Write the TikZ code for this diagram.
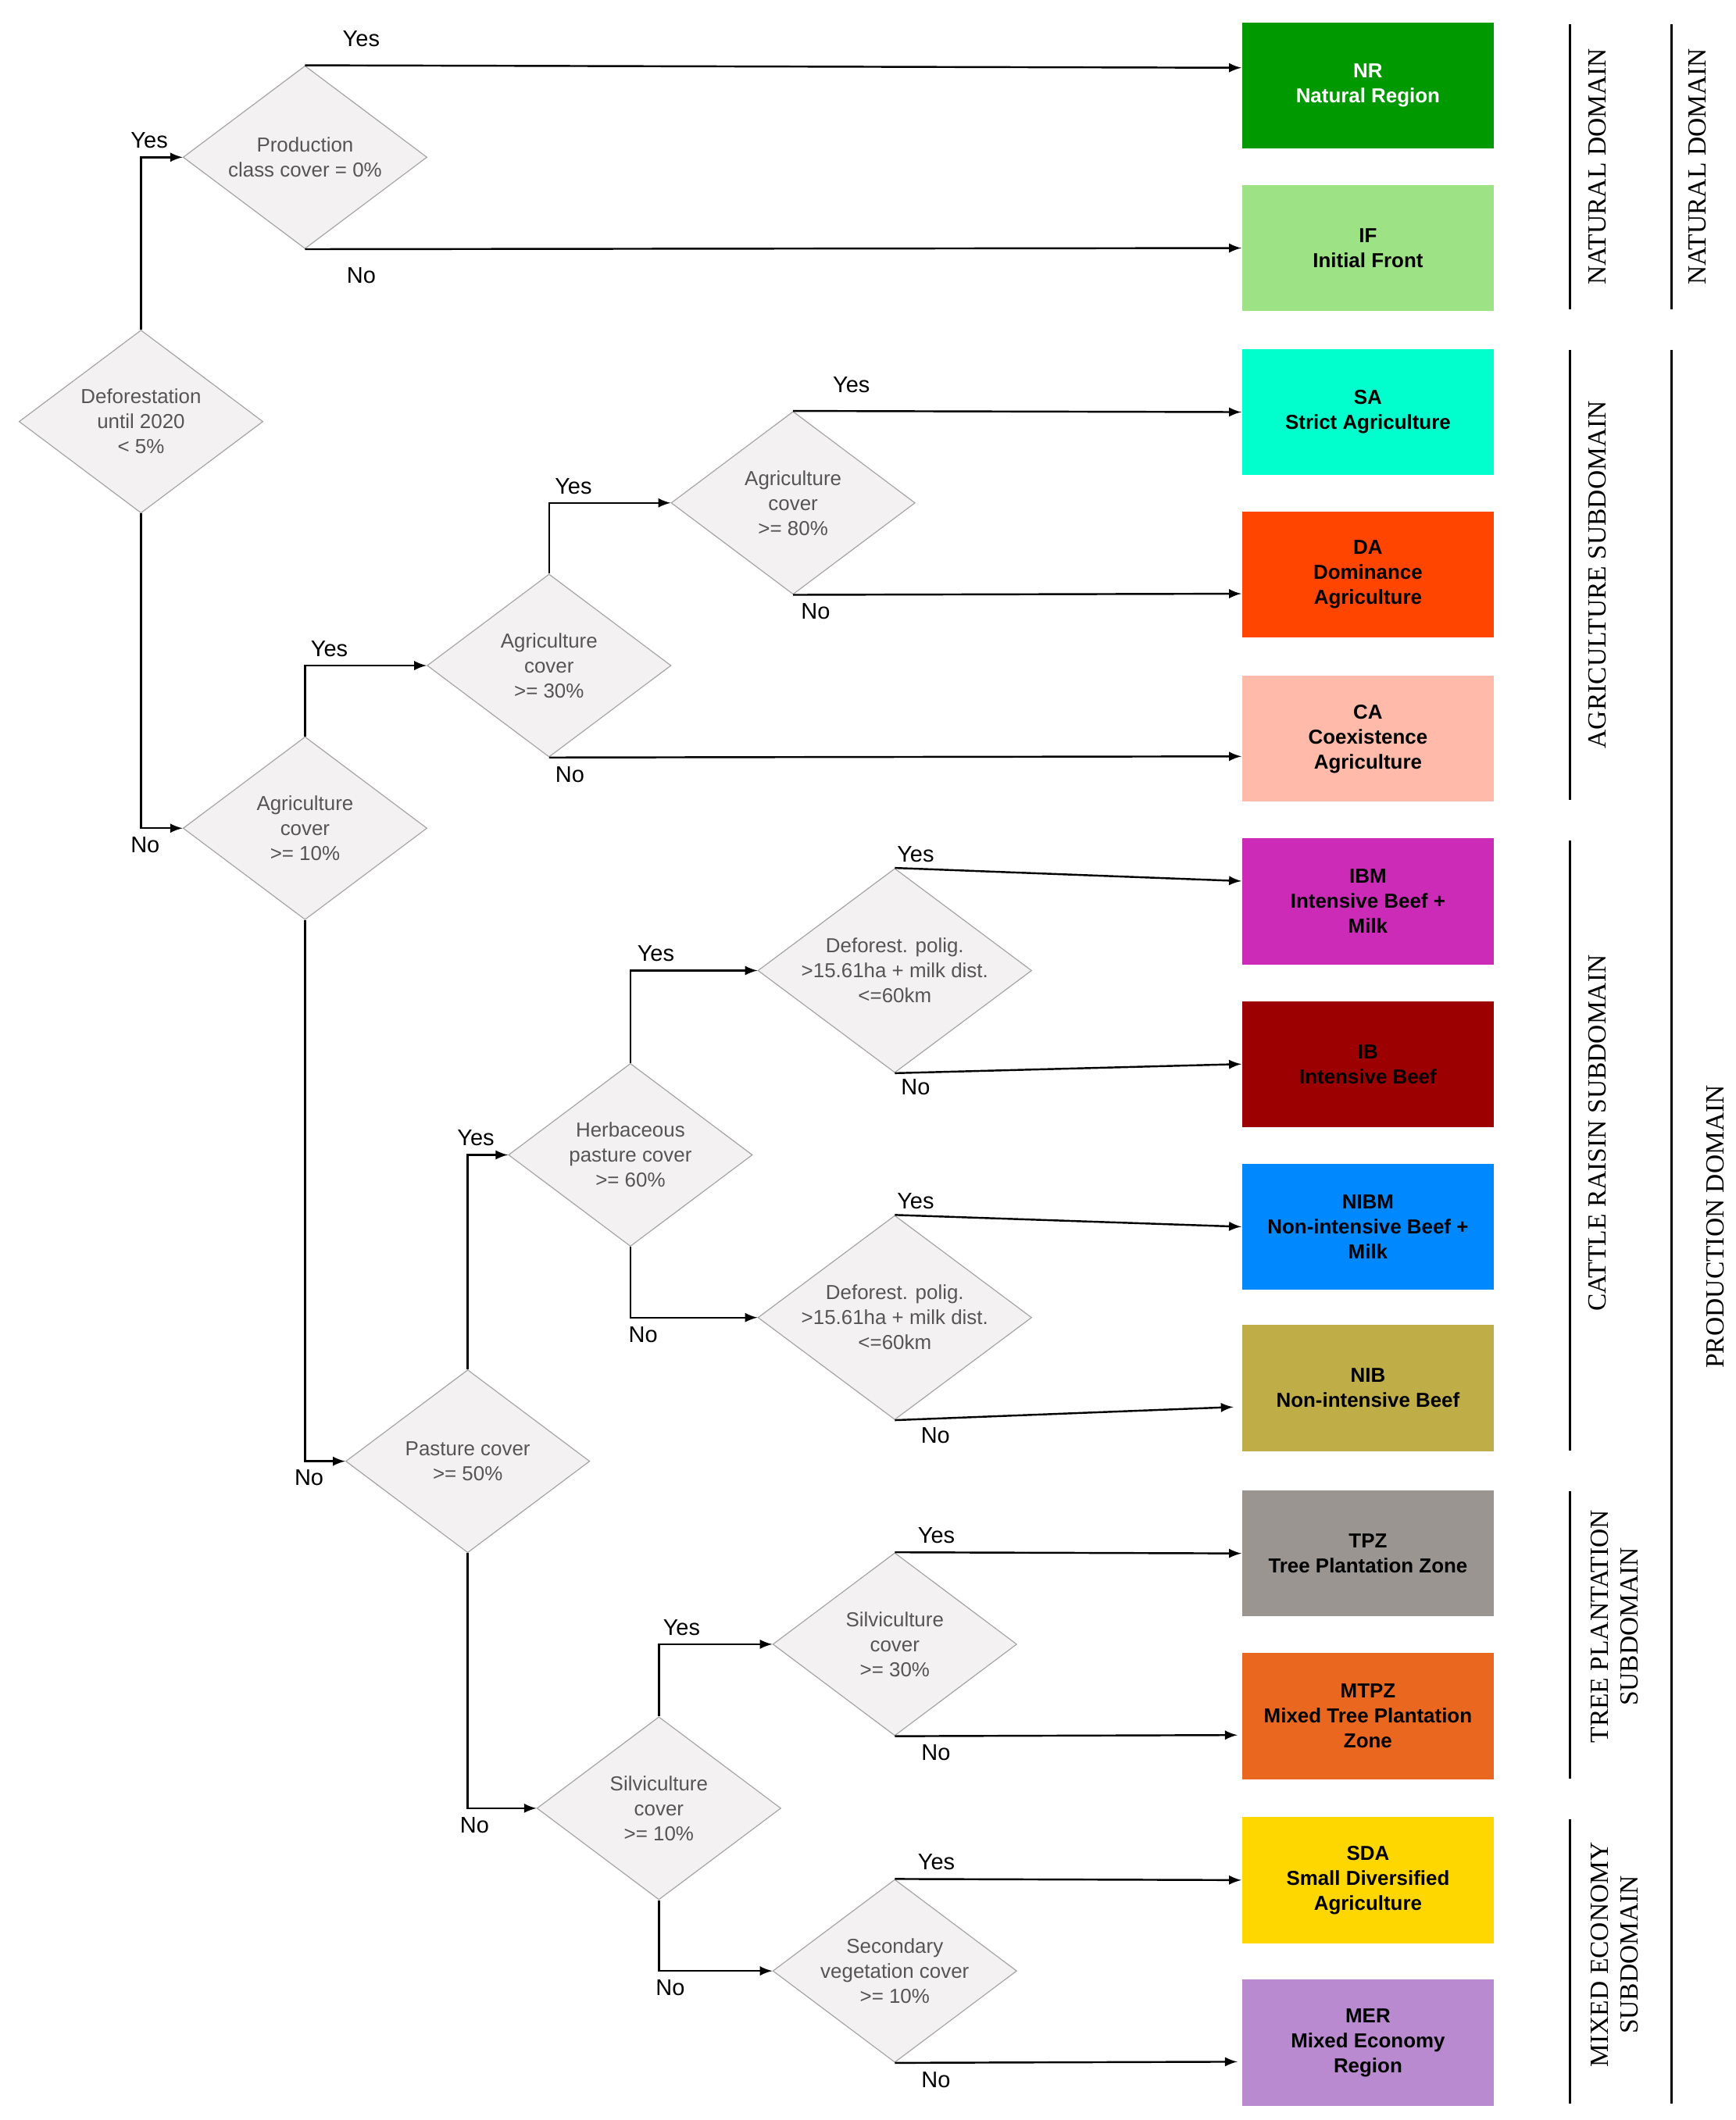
\documentclass[tikz,border=0pt]{standalone}
\usepackage{fontspec}
\setmainfont{Liberation Sans}
\newfontfamily\sidefont{Liberation Serif}
\usetikzlibrary{shapes.geometric}
\definecolor{dfill}{HTML}{F3F1F1}
\definecolor{dtext}{HTML}{555555}
\definecolor{cNR}{HTML}{009A00}
\definecolor{cIF}{HTML}{9DE285}
\definecolor{cSA}{HTML}{00FFCC}
\definecolor{cDA}{HTML}{FF4500}
\definecolor{cCA}{HTML}{FFBAAA}
\definecolor{cIBM}{HTML}{CC2BB8}
\definecolor{cIB}{HTML}{9C0000}
\definecolor{cNIBM}{HTML}{0088FF}
\definecolor{cNIB}{HTML}{BFAD48}
\definecolor{cTPZ}{HTML}{9A9590}
\definecolor{cMTPZ}{HTML}{EA671F}
\definecolor{cSDA}{HTML}{FFD700}
\definecolor{cMER}{HTML}{B98AD0}
\tikzset{
  dec/.style={diamond,draw=gray!70,fill=dfill,aspect=1.34,minimum width=3.6cm,minimum height=2.7cm,inner sep=0pt,
    align=center,text=dtext,font=\fontsize{8.5}{10.5}\selectfont},
  cls/.style={rectangle,minimum width=3.72cm,minimum height=1.86cm,align=center,font=\bfseries\fontsize{8.5}{10.5}\selectfont},
  lab/.style={font=\fontsize{9.5}{11}\selectfont},
  side/.style={rotate=90,align=center,font=\sidefont\fontsize{11}{12.5}\selectfont},
  arr/.style={-latex,thick}
}
\begin{document}
\begin{tikzpicture}[x=0.02cm,y=-0.02cm]
	\useasboundingbox (0,0) rectangle (1280,1564);

	% decisions
	\node[dec] (def) at (104,311) {Deforestation\\until 2020\\< 5\%};
	\node[dec] (prod) at (225,116) {Production\\class cover = 0\%};
	\node[dec] (agr10) at (225,611) {Agriculture\\cover\\>= 10\%};
	\node[dec] (agr30) at (405,491) {Agriculture\\cover\\>= 30\%};
	\node[dec] (agr80) at (585,371) {Agriculture\\cover\\>= 80\%};
	\node[dec] (past) at (345,1078) {Pasture cover\\>= 50\%};
	\node[dec] (herb) at (465,852) {Herbaceous\\pasture cover\\>= 60\%};
	\node[dec] (polA) at (660,716) {Deforest. polig.\\>15.61ha + milk dist.\\<=60km};
	\node[dec] (polB) at (660,972) {Deforest. polig.\\>15.61ha + milk dist.\\<=60km};
	\node[dec] (silv10) at (486,1334) {Silviculture\\cover\\>= 10\%};
	\node[dec] (silv30) at (660,1213) {Silviculture\\cover\\>= 30\%};
	\node[dec] (sec) at (660,1454) {Secondary\\vegetation cover\\>= 10\%};

	% classes
	\foreach \nm/\y/\txt/\tc in {NR/63/{NR\\Natural Region}/white,
		IF/183/{IF\\Initial Front}/black,
		SA/304/{SA\\Strict Agriculture}/black,
		DA/424/{DA\\Dominance\\Agriculture}/black,
		CA/545/{CA\\Coexistence\\Agriculture}/black,
		IBM/665/{IBM\\Intensive Beef +\\Milk}/black,
		IB/785/{IB\\Intensive Beef}/black,
		NIBM/905/{NIBM\\Non-intensive Beef +\\Milk}/black,
		NIB/1024/{NIB\\Non-intensive Beef}/black,
		TPZ/1146/{TPZ\\Tree Plantation Zone}/black,
		MTPZ/1266/{MTPZ\\Mixed Tree Plantation\\Zone}/black,
		SDA/1387/{SDA\\Small Diversified\\Agriculture}/black,
		MER/1507/{MER\\Mixed Economy\\Region}/black} {
		\node[cls,fill=c\nm,text=\tc] (\nm) at (1009,\y) {\txt};
	}

	% tree branches
	\draw[arr] (def.north) |- (prod.west) node[lab,pos=0.6,above] {Yes};
	\draw[arr] (def.south) |- (agr10.west) node[lab,pos=0.55,below] {No};
	\draw[arr] (agr10.north) |- (agr30.west) node[lab,pos=0.6,above] {Yes};
	\draw[arr] (agr10.south) |- (past.west) node[lab,pos=0.55,below] {No};
	\draw[arr] (agr30.north) |- (agr80.west) node[lab,pos=0.6,above] {Yes};
	\draw[arr] (past.north) |- (herb.west) node[lab,pos=0.6,above] {Yes};
	\draw[arr] (past.south) |- (silv10.west) node[lab,pos=0.55,below] {No};
	\draw[arr] (herb.north) |- (polA.west) node[lab,pos=0.6,above] {Yes};
	\draw[arr] (herb.south) |- (polB.west) node[lab,pos=0.55,below] {No};
	\draw[arr] (silv10.north) |- (silv30.west) node[lab,pos=0.6,above] {Yes};
	\draw[arr] (silv10.south) |- (sec.west) node[lab,pos=0.55,below] {No};

	% to classes
	\draw[arr] (prod.north) -- (NR.west|-0,50) node[lab,pos=0.06,above=4pt] {Yes};
	\draw[arr] (prod.south) -- (IF.west) node[lab,pos=0.06,below=4pt] {No};
	\draw[arr] (agr80.north) -- (SA.west) node[lab,pos=0.13,above=4pt] {Yes};
	\draw[arr] (agr80.south) -- (DA.west|-0,438) node[lab,pos=0.05,below] {No};
	\draw[arr] (agr30.south) -- (CA.west|-0,558) node[lab,pos=0.03,below] {No};
	\draw[arr] (polA.north) -- (IBM.west|-0,650) node[lab,pos=0.06,above=-1pt] {Yes};
	\draw[arr] (polA.south) -- (IB.west) node[lab,pos=0.06,below=-1pt] {No};
	\draw[arr] (polB.north) -- (NIBM.west) node[lab,pos=0.06,above=-1pt] {Yes};
	\draw[arr] (polB.south) -- ([xshift=-0.12cm]NIB.west|-0,1038) node[lab,pos=0.12,below] {No};
	\draw[arr] (silv30.north) -- (TPZ.west) node[lab,pos=0.12,above] {Yes};
	\draw[arr] (silv30.south) -- ([xshift=-0.06cm]MTPZ.west|-0,1280) node[lab,pos=0.12,below] {No};
	\draw[arr] (sec.north) -- (SDA.west) node[lab,pos=0.12,above] {Yes};
	\draw[arr] (sec.south) -- ([xshift=-0.06cm]MER.west|-0,1521) node[lab,pos=0.12,below] {No};

	% domains
	\foreach \x/\ya/\yb in {1158/18/228, 1233/18/228, 1158/258/590, 1158/620/1070,
		1158/1100/1312, 1158/1342/1552, 1233/258/1552} {
		\draw[thick] (\x,\ya) -- (\x,\yb);
	}
	\node[side] (natA) at (1178,123) {NATURAL DOMAIN};
	\node[side] (natB) at (1252,123) {NATURAL DOMAIN};
	\node[side] (agsub) at (1178,424) {AGRICULTURE SUBDOMAIN};
	\node[side] (catsub) at (1178,836) {CATTLE RAISIN SUBDOMAIN};
	\node[side] (treesub) at (1191,1200) {TREE PLANTATION\\SUBDOMAIN};
	\node[side] (mixsub) at (1191,1442) {MIXED ECONOMY\\SUBDOMAIN};
	\node[side] (prodom) at (1265,905) {PRODUCTION DOMAIN};
\end{tikzpicture}
\end{document}
